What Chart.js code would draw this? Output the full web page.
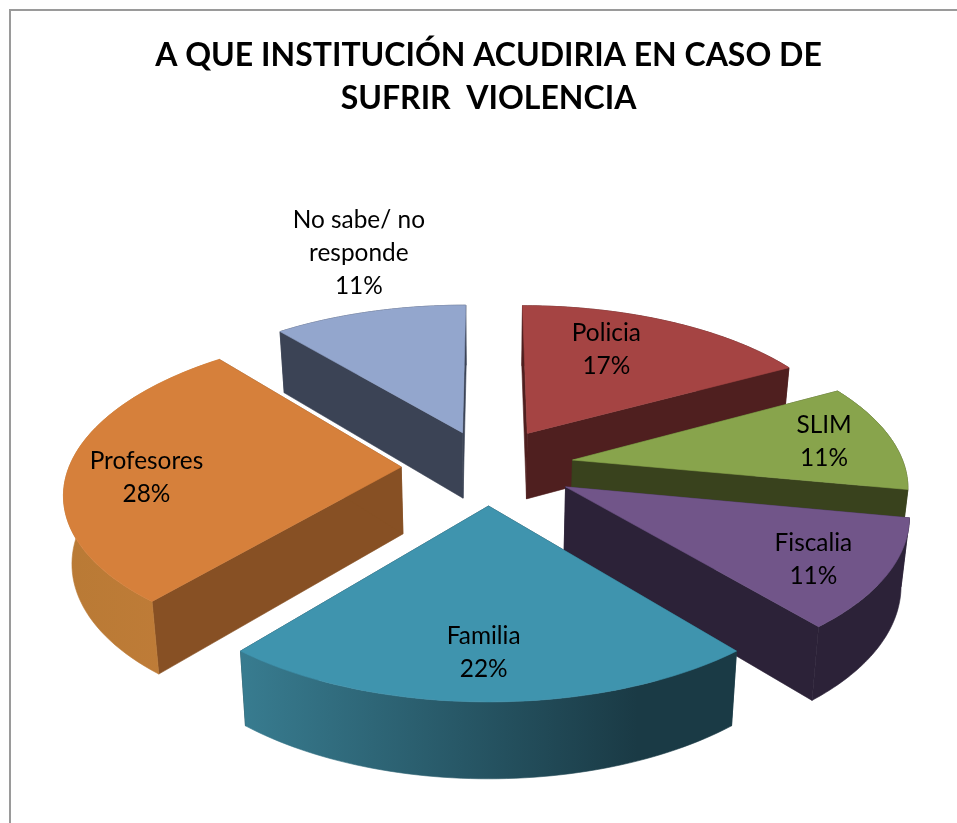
<!DOCTYPE html>
<html lang="es">
<head>
<meta charset="utf-8">
<title>A QUE INSTITUCIÓN ACUDIRIA</title>
<script src="https://cdn.jsdelivr.net/npm/chart.js@4"></script>
<style>
html,body{margin:0;padding:0;background:#fff;overflow:hidden}
#wrap{position:relative;width:957px;height:823px}
#frame{position:absolute;left:9px;top:9px;width:960px;height:830px;border:2px solid #9a9a9a;box-sizing:border-box;pointer-events:none}
canvas{display:block}
</style>
</head>
<body>
<div id="wrap"><canvas id="c" width="957" height="823"></canvas><div id="frame"></div></div>
<script>
const titleLines = ['A QUE INSTITUCIÓN ACUDIRIA EN CASO DE', 'SUFRIR  VIOLENCIA'];
const categories = ['Policia', 'SLIM', 'Fiscalia', 'Familia', 'Profesores', ['No sabe/ no', 'responde']];
const percentages = [17, 11, 11, 22, 28, 11];
const topColors = ['#A54443', '#88A44C', '#715589', '#3F94AE', '#D6803B', '#93A6CD'];
const sideStart = ['#4F1F1F', '#39421D', '#2C2238', '#387C90', '#B97A35', '#3B4355'];
const sideEnd = ['#4F1F1F', '#39421D', '#2C2238', '#1A3A45', '#C07C38', '#3B4355'];
const wallColors = ['#4F1F1F', '#39421D', '#2C2238', '#1A3A45', '#875024', '#3B4355'];

// view settings of the tilted pie
const VIEW = {radius: 330, tilt: 0.464, persp: 2300, depth: 68, taper: 0.02};
// direction tweak of each slice's explosion, radians from its mid-angle
const explodeTurn = [0.06, 0.157, 0.11, 0, -0.17, -0.07];
// label placement: fraction of the radius and angle shift from each slice's mid-angle
const labelFrac = [0.686, 0.79, 0.795, 0.778, 0.76, 1.55];
const labelTurn = [-0.117, 0, 0.028, 0.016, -0.087, 0.08];

function pieProjector(el) {
  return (X, Y, Z) => {
    const s = VIEW.persp / (VIEW.persp - Y) * (1 - VIEW.taper * Z / VIEW.depth);
    return [el.x + X * s, el.y + (VIEW.tilt * Y + Z) * s];
  };
}

function apexOf(el, i) {
  const mid = (el.startAngle + el.endAngle) / 2 + explodeTurn[i];
  return [Math.cos(mid) * el.options.offset, Math.sin(mid) * el.options.offset];
}

function fillPath(ctx, pts, fill) {
  ctx.beginPath();
  pts.forEach((p, i) => i ? ctx.lineTo(p[0], p[1]) : ctx.moveTo(p[0], p[1]));
  ctx.closePath();
  ctx.fillStyle = fill;
  ctx.fill();
  ctx.strokeStyle = fill;
  ctx.lineWidth = 0.6;
  ctx.stroke();
}

function drawSlice(ctx, el, i) {
  const project = pieProjector(el);
  const [ox, oy] = apexOf(el, i);
  const R = VIEW.radius, D = VIEW.depth;
  const steps = 60;
  const rim = [];
  for (let n = 0; n <= steps; n++) {
    const a = el.startAngle + (el.endAngle - el.startAngle) * n / steps;
    rim.push([ox + R * Math.cos(a), oy + R * Math.sin(a)]);
  }
  const top = rim.map(p => project(p[0], p[1], 0));
  const bottom = rim.map(p => project(p[0], p[1], D));
  const aT = project(ox, oy, 0), aB = project(ox, oy, D);

  fillPath(ctx, [aT, top[0], bottom[0], aB], wallColors[i]);
  fillPath(ctx, [aT, top[steps], bottom[steps], aB], wallColors[i]);

  const xs = top.concat(bottom).map(p => p[0]);
  const g = ctx.createLinearGradient(Math.min(...xs), 0, Math.max(...xs), 0);
  g.addColorStop(0, sideStart[i]);
  g.addColorStop(0.8, sideEnd[i]);
  g.addColorStop(1, sideEnd[i]);
  fillPath(ctx, top.concat(bottom.slice().reverse()), g);

  fillPath(ctx, [aT].concat(top), el.options.backgroundColor);
}

function drawLabel(ctx, el, i) {
  const project = pieProjector(el);
  const mid = (el.startAngle + el.endAngle) / 2;
  const [ox, oy] = apexOf(el, i);
  const a = mid + labelTurn[i];
  const r = VIEW.radius * labelFrac[i];
  const p = project(ox + r * Math.cos(a), oy + r * Math.sin(a), 0);
  const name = [].concat(categories[i]);
  const lines = name.concat(percentages[i] + '%');
  const lh = 33;
  ctx.font = '24.4px Lato';
  ctx.fillStyle = '#000';
  ctx.textAlign = 'center';
  ctx.textBaseline = 'middle';
  lines.forEach((t, n) => ctx.fillText(t, p[0], p[1] + (n - (lines.length - 1) / 2) * lh));
}

const pie3d = {
  id: 'pie3d',
  beforeDatasetDraw(chart) {
    const ctx = chart.ctx;
    const arcs = chart.getDatasetMeta(0).data;
    const order = arcs.map((el, i) => i).sort((a, b) =>
      Math.sin((arcs[a].startAngle + arcs[a].endAngle) / 2) - Math.sin((arcs[b].startAngle + arcs[b].endAngle) / 2));
    ctx.save();
    order.forEach(i => drawSlice(ctx, arcs[i], i));
    arcs.forEach((el, i) => drawLabel(ctx, el, i));
    ctx.restore();
    return false;
  }
};

new Chart(document.getElementById('c'), {
  type: 'pie',
  data: {
    labels: categories,
    datasets: [{
      data: percentages,
      backgroundColor: topColors,
      borderWidth: 0,
      offset: [71, 84, 94, 95, 88, 66]
    }]
  },
  options: {
    responsive: false,
    animation: false,
    rotation: 0,
    layout: {padding: {left: 20, top: 0, right: 0, bottom: 33}},
    plugins: {
      legend: {display: false},
      tooltip: {enabled: false},
      title: {
        display: true,
        text: titleLines,
        color: '#000',
        font: {family: 'Lato', size: 32, weight: 'bold', lineHeight: 1.344},
        padding: {top: 34, bottom: 10}
      }
    }
  },
  plugins: [pie3d]
});
</script>
</body>
</html>
